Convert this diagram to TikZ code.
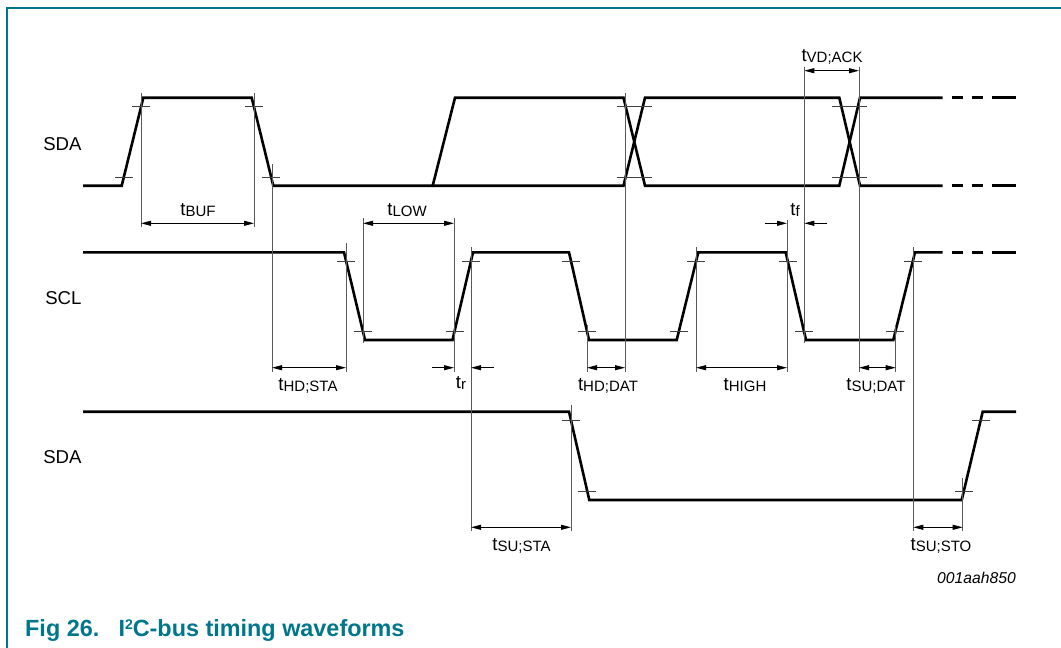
\documentclass[tikz,border=0pt]{standalone}
\usepackage{fontspec}
\setmainfont{Liberation Sans}
\usetikzlibrary{arrows.meta,calc}
\definecolor{nxpteal}{RGB}{0,118,140}
\newcommand\tsub[1]{t\raisebox{-1pt}{\fontsize{15}{15}\selectfont #1}}
\newcommand\tickpair[4]{%
  \draw[tickln] ($(#1,#2)!0.1!(#3,#4)$) +(-9,0) -- +(9,0);
  \draw[tickln] ($(#1,#2)!0.9!(#3,#4)$) +(-9,0) -- +(9,0);}
\begin{document}
\begin{tikzpicture}[x=1pt,y=-1pt,
  wave/.style={line width=2.6pt},
  tickln/.style={line width=0.8pt, black!75},
  refln/.style={line width=0.8pt, black!65},
  dim/.style={line width=0.8pt, {Triangle[length=10pt,width=5pt]}-{Triangle[length=10pt,width=5pt]}},
  onearrow/.style={line width=0.8pt, -{Triangle[length=10pt,width=5pt]}},
  lbl/.style={font=\fontsize{18.6}{20}\selectfont, inner sep=0pt, anchor=base},
  sig/.style={font=\fontsize{18.6}{20}\selectfont, inner sep=0pt, anchor=base east}]
\useasboundingbox (0,0) rectangle (1061,648);
% frame
\draw[nxpteal, line width=1.3pt] (7,648) -- (7,8) -- (1061,8);
% signal names
\node[sig] (sda1) at (81.7,150.7) {SDA};
\node[sig] (scl) at (81.7,304.3) {SCL};
\node[sig] (sda2) at (81.7,463.3) {SDA};
% ---- SDA (upper)
\draw[wave] (83,185.7) -- (121.7,185.7) -- (143.3,97.7) -- (251.7,97.7) -- (273.3,185.7)
  -- (432.7,185.7) -- (455,97.7) -- (623.5,97.7) -- (645,185.7) -- (839.3,185.7)
  -- (860,97.7) -- (942.7,97.7);
\draw[wave] (432.7,185.7) -- (623.5,185.7) -- (645,97.7) -- (839.3,97.7) -- (860,185.7) -- (942.7,185.7);
\foreach \y in {97.7,185.7,252.3}{
  \draw[wave] (951.7,\y) -- (963.3,\y);
  \draw[wave] (971.7,\y) -- (983.3,\y);
  \draw[wave] (991.7,\y) -- (1016,\y);}
\tickpair{121.7}{185.7}{143.3}{97.7}
\tickpair{251.7}{97.7}{273.3}{185.7}
\tickpair{623.5}{97.7}{645}{185.7}
\tickpair{623.5}{185.7}{645}{97.7}
\tickpair{839.3}{97.7}{860}{185.7}
\tickpair{839.3}{185.7}{860}{97.7}
% ---- SCL
\draw[wave] (83,252.3) -- (344,252.3) -- (365,340) -- (452.5,340) -- (473,252.3)
  -- (569,252.3) -- (589,340) -- (676.7,340) -- (698.3,252.3) -- (785.7,252.3)
  -- (806,340) -- (893.3,340) -- (915,252.3) -- (942.7,252.3);
\tickpair{344}{252.3}{365}{340}
\tickpair{452.5}{340}{473}{252.3}
\tickpair{569}{252.3}{589}{340}
\tickpair{676.7}{340}{698.3}{252.3}
\tickpair{785.7}{252.3}{806}{340}
\tickpair{893.3}{340}{915}{252.3}
% ---- SDA (lower)
\draw[wave] (83,411.7) -- (569,411.7) -- (589.3,500) -- (961.7,500) -- (982.7,411.7) -- (1016,411.7);
\tickpair{569}{411.7}{589.3}{500}
\tickpair{961.7}{500}{982.7}{411.7}
% ---- reference lines
\draw[refln] (141,93) -- (141,227);
\draw[refln] (254,93) -- (254,227);
\draw[refln] (272,164) -- (272,372);
\draw[refln] (346,243) -- (346,372);
\draw[refln] (363,218) -- (363,343);
\draw[refln] (454,218) -- (454,372);
\draw[refln] (471,247) -- (471,531);
\draw[refln] (571,405) -- (571,531);
\draw[refln] (587,325) -- (587,372);
\draw[refln] (625,93) -- (625,372);
\draw[refln] (696,247) -- (696,372);
\draw[refln] (787,220) -- (787,372);
\draw[refln] (804.3,66.7) -- (804.3,343);
\draw[refln] (859,66.7) -- (859,372);
\draw[refln] (895.7,325) -- (895.7,372);
\draw[refln] (913.3,247) -- (913.3,531);
\draw[refln] (962.7,478) -- (962.7,531);
% ---- dimension arrows and labels
\draw[dim] (141,223.3) -- (254,223.3);
\node[lbl] (tbuf) at (198,215) {\tsub{BUF}};
\draw[dim] (363,223.3) -- (454,223.3);
\node[lbl] (tlow) at (407,215) {\tsub{LOW}};
\draw[dim] (804.3,70.7) -- (859,70.7);
\node[lbl] (tvdack) at (832,61) {\tsub{VD;ACK}};
\draw[onearrow] (765,223.3) -- (787,223.3);
\draw[onearrow] (827,223.3) -- (804.3,223.3);
\node[lbl] (tf) at (795,215) {\tsub{f}};
\draw[dim] (272,367.7) -- (346,367.7);
\node[lbl] (thdsta) at (308,390) {\tsub{HD;STA}};
\draw[onearrow] (432,367.7) -- (454,367.7);
\draw[onearrow] (494,367.7) -- (471,367.7);
\node[lbl] (tr) at (461,388) {\tsub{r}};
\draw[dim] (587,367.7) -- (625,367.7);
\node[lbl] (thddat) at (608,390) {\tsub{HD;DAT}};
\draw[dim] (696,367.7) -- (787,367.7);
\node[lbl] (thigh) at (745,390) {\tsub{HIGH}};
\draw[dim] (859,367.7) -- (895.7,367.7);
\node[lbl] (tsudat) at (876,390) {\tsub{SU;DAT}};
\draw[dim] (471,527.3) -- (571,527.3);
\node[lbl] (tsusta) at (521.5,550) {\tsub{SU;STA}};
\draw[dim] (913.3,527.3) -- (962.7,527.3);
\node[lbl] (tsusto) at (941,550) {\tsub{SU;STO}};
% ---- figure id and caption
\node[font=\fontsize{15.7}{17}\itshape, inner sep=0pt, anchor=base east] (figid) at (1016,583.3) {001aah850};
\node[font=\fontsize{23.4}{26}\bfseries, text=nxpteal, inner sep=0pt, anchor=base west] (fignum) at (25,636.7) {Fig 26.};
\node[font=\fontsize{23.4}{26}\bfseries, text=nxpteal, inner sep=0pt, anchor=base west] (figtitle) at (118.3,636.7) {I\raisebox{7.5pt}{\fontsize{14}{14}\selectfont 2}C-bus timing waveforms};
\end{tikzpicture}
\end{document}
